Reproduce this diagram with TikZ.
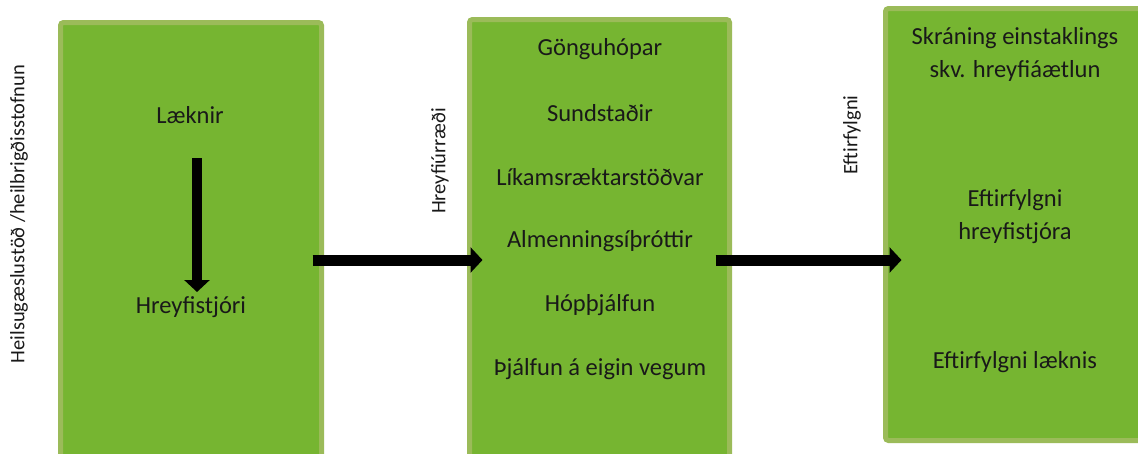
\documentclass[tikz,border=0pt]{standalone}
\usepackage{fontspec}
\setmainfont{Carlito}
\usetikzlibrary{arrows.meta}
\definecolor{boxfill}{HTML}{76B531}
\definecolor{boxline}{HTML}{9BBB59}
\tikzset{
  greenbox/.style={draw=boxline, line width=5pt, fill=boxfill, rounded corners=3pt, inner sep=0pt},
  boxtext/.style={font=\fontsize{24.5}{33}\selectfont, align=center, text=black!90, inner sep=0pt},
  sidetext/.style={font=\fontsize{20.5}{24}\selectfont, rotate=90, text=black!90, inner sep=0pt},
  fatarrow/.style={line width=11pt, -{Triangle[width=25pt,length=12pt]}}
}
\begin{document}
\begin{tikzpicture}[x=1pt,y=-1pt]
    \useasboundingbox (0,0) rectangle (1138,453);
    \clip (0,0) rectangle (1138,453);

    % Draw the boxes
    \node[greenbox, minimum width=261pt, minimum height=475pt] (clinic) at (191,260) {};
    \node[greenbox, minimum width=260pt, minimum height=481pt] (options) at (599.5,260) {};
    \node[greenbox, minimum width=260pt, minimum height=432pt] (followup) at (1015.5,224.5) {};

    % Side labels
    \node[sidetext] (lclinic) at (19,214) {Heilsugæslustöð /heilbrigðisstofnun};
    \node[sidetext] (loptions) at (440,161) {Hreyfiúrræði};
    \node[sidetext] (lfollow) at (852,135) {Eftirfylgni};

    % Texts in the first box
    \node[boxtext] (lk) at (190,115) {Læknir};
    \node[boxtext] (hr) at (191,307) {Hreyfistjóri};

    % Texts in the second box
    \node[boxtext] (walk) at (600,49) {Gönguhópar};
    \node[boxtext] (swim) at (600,113) {Sundstaðir};
    \node[boxtext] (gym) at (600,177) {Líkamsræktarstöðvar};
    \node[boxtext] (sport) at (600,241) {Almenningsíþróttir};
    \node[boxtext] (group) at (600,305) {Hópþjálfun};
    \node[boxtext] (self) at (600,369) {Þjálfun á eigin vegum};

    % Texts in the third box
    \node[boxtext] (reg) at (1015,54.5) {Skráning einstaklings\\skv. hreyfiáætlun};
    \node[boxtext] (fhr) at (1015,217) {Eftirfylgni\\hreyfistjóra};
    \node[boxtext] (flk) at (1015,362) {Eftirfylgni læknis};

    % Arrows
    \draw[fatarrow, line width=10pt] ([xshift=7pt,yshift=-43pt]lk.center) -- ([xshift=6pt,yshift=15pt]hr.center);
    \draw[fatarrow] ([xshift=-11.5pt]clinic.east) -- ([xshift=15.5pt]options.west);
    \draw[fatarrow] ([xshift=-16.5pt]options.east) -- ([xshift=18.5pt]followup.west |- options.east);
\end{tikzpicture}
\end{document}
